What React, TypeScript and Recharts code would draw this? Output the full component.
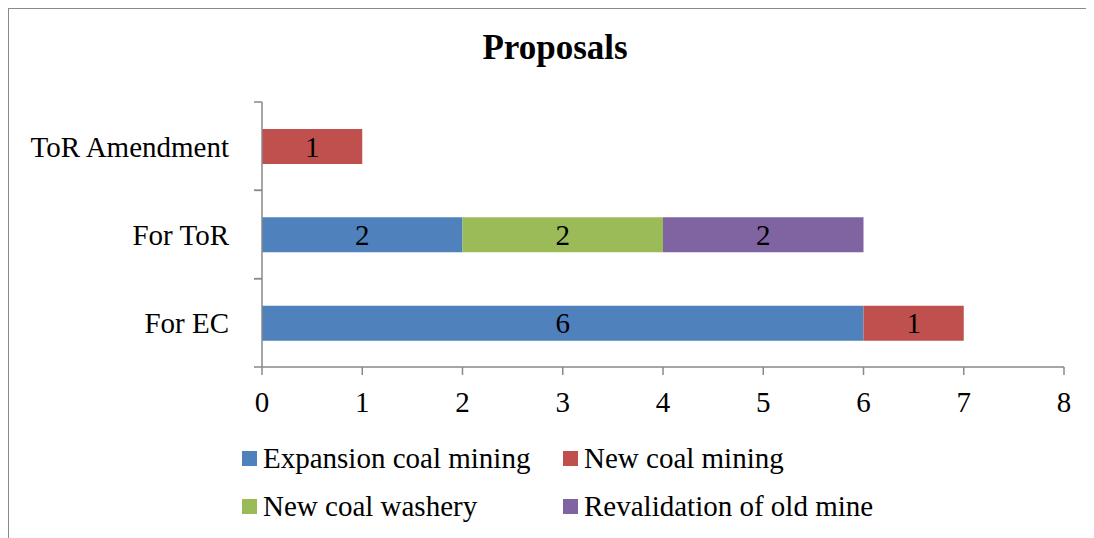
import React from 'react';
import { BarChart, Bar, XAxis, YAxis, LabelList, Legend } from 'recharts';

const categories = ['ToR Amendment', 'For ToR', 'For EC'];
const expansionCoalMining = [0, 2, 6];
const newCoalMining = [1, 0, 1];
const newCoalWashery = [0, 2, 0];
const revalidationOfOldMine = [0, 2, 0];
const xTicks = [0, 1, 2, 3, 4, 5, 6, 7, 8];

const seriesNames = ['Expansion coal mining', 'New coal mining', 'New coal washery', 'Revalidation of old mine'];
const seriesKeys = ['expansion', 'newMining', 'washery', 'revalidation'];
const seriesColors = ['#4F81BD', '#C0504D', '#9BBB59', '#8064A2'];

const data = categories.map((c, i) => ({
  name: c,
  expansion: expansionCoalMining[i],
  newMining: newCoalMining[i],
  washery: newCoalWashery[i],
  revalidation: revalidationOfOldMine[i],
}));

const FONT = '"Liberation Serif", "Times New Roman", serif';
const AXIS = '#898989';
const W = 1086;
const H = 530;
const TOP = 94;
const BOTTOM = 359;
const XAXIS_H = 60;
const BAND = (BOTTOM - TOP) / categories.length;

const YTick = (props: any) => {
  const { x, y, payload } = props;
  return (
    <g>
      <line x1={x - 8} x2={x} y1={y - BAND / 2} y2={y - BAND / 2} stroke={AXIS} strokeWidth={1.5} />
      <line x1={x - 8} x2={x} y1={y + BAND / 2} y2={y + BAND / 2} stroke={AXIS} strokeWidth={1.5} />
      <text x={x - 33} y={y} dy="0.36em" textAnchor="end" fontFamily={FONT} fontSize={29} fill="#000">
        {payload.value}
      </text>
    </g>
  );
};

const LegendContent = () => (
  <div
    style={{
      display: 'grid',
      gridTemplateColumns: '321px 321px',
      fontFamily: FONT,
      fontSize: 29,
      color: '#000',
    }}
  >
    {seriesNames.map((n, i) => (
      <div key={n} style={{ display: 'flex', alignItems: 'center', height: 48, whiteSpace: 'nowrap' }}>
        <div style={{ width: 15, height: 15, background: seriesColors[i], marginRight: 6, flexShrink: 0 }} />
        <span style={{ lineHeight: '48px' }}>{n}</span>
      </div>
    ))}
  </div>
);

const fmt = (v: any) => (v ? v : '');

export default function App() {
  return (
    <div style={{ position: 'relative', width: W, height: H, fontFamily: FONT, background: '#fff', overflow: 'hidden' }}>
      <div
        style={{
          position: 'absolute',
          left: 0,
          top: 0,
          width: W,
          height: H,
          boxSizing: 'border-box',
          borderLeft: '1.5px solid #8a8a8a',
          borderTop: '1.5px solid #8a8a8a',
          pointerEvents: 'none',
        }}
      />
      <div
        style={{
          position: 'absolute',
          left: 0,
          top: 19.5,
          width: 1094,
          textAlign: 'center',
          fontFamily: FONT,
          fontWeight: 'bold',
          fontSize: 35,
          lineHeight: '40px',
          color: '#000',
        }}
      >
        Proposals
      </div>
      <BarChart
        width={W}
        height={H}
        data={data}
        layout="vertical"
        margin={{ top: TOP, right: 30, bottom: H - BOTTOM - XAXIS_H, left: 0 }}
        barSize={35}
      >
        <XAxis
          type="number"
          domain={[0, 8]}
          ticks={xTicks}
          interval={0}
          height={XAXIS_H}
          tickSize={8}
          tickMargin={16}
          axisLine={{ stroke: AXIS, strokeWidth: 1.5 }}
          tickLine={{ stroke: AXIS, strokeWidth: 1.5 }}
          tick={{ fill: '#000', fontSize: 29, fontFamily: FONT }}
        />
        <YAxis
          type="category"
          dataKey="name"
          width={254}
          tickSize={0}
          tickMargin={0}
          tickLine={false}
          interval={0}
          axisLine={{ stroke: AXIS, strokeWidth: 1.5 }}
          tick={<YTick />}
        />
        <Legend
          layout="horizontal"
          verticalAlign="middle"
          align="center"
          content={<LegendContent />}
          wrapperStyle={{ top: 426, left: 234, width: 660 }}
        />
        {seriesKeys.map((k, i) => (
          <Bar key={k} dataKey={k} name={seriesNames[i]} stackId="a" fill={seriesColors[i]} isAnimationActive={false}>
            <LabelList dataKey={k} position="center" formatter={fmt} fill="#000" fontSize={29} fontFamily={FONT} />
          </Bar>
        ))}
      </BarChart>
    </div>
  );
}
